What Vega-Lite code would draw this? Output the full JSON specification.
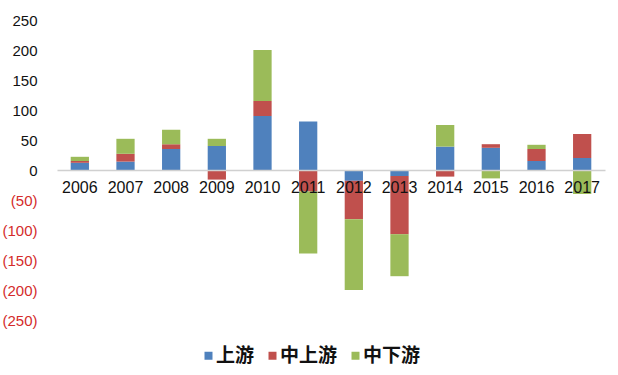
{
  "$schema": "https://vega.github.io/schema/vega-lite/v6.json",
  "width": 548,
  "height": 300,
  "autosize": {"type": "none"},
  "padding": {"left": 57, "top": 20, "right": 13, "bottom": 55},
  "background": "white",
  "data": {
    "values": [
      {"year": "2006", "series": "上游", "value": 12},
      {"year": "2006", "series": "中上游", "value": 3},
      {"year": "2006", "series": "中下游", "value": 7},
      {"year": "2007", "series": "上游", "value": 14},
      {"year": "2007", "series": "中上游", "value": 13},
      {"year": "2007", "series": "中下游", "value": 25},
      {"year": "2008", "series": "上游", "value": 35},
      {"year": "2008", "series": "中上游", "value": 8},
      {"year": "2008", "series": "中下游", "value": 24},
      {"year": "2009", "series": "上游", "value": 40},
      {"year": "2009", "series": "中上游", "value": -16},
      {"year": "2009", "series": "中下游", "value": 12},
      {"year": "2010", "series": "上游", "value": 90},
      {"year": "2010", "series": "中上游", "value": 25},
      {"year": "2010", "series": "中下游", "value": 85},
      {"year": "2011", "series": "上游", "value": 81},
      {"year": "2011", "series": "中上游", "value": -36},
      {"year": "2011", "series": "中下游", "value": -103},
      {"year": "2012", "series": "上游", "value": -18},
      {"year": "2012", "series": "中上游", "value": -64},
      {"year": "2012", "series": "中下游", "value": -118},
      {"year": "2013", "series": "上游", "value": -10},
      {"year": "2013", "series": "中上游", "value": -97},
      {"year": "2013", "series": "中下游", "value": -70},
      {"year": "2014", "series": "上游", "value": 39},
      {"year": "2014", "series": "中上游", "value": -11},
      {"year": "2014", "series": "中下游", "value": 36},
      {"year": "2015", "series": "上游", "value": 37},
      {"year": "2015", "series": "中上游", "value": 6},
      {"year": "2015", "series": "中下游", "value": -14},
      {"year": "2016", "series": "上游", "value": 15},
      {"year": "2016", "series": "中上游", "value": 20},
      {"year": "2016", "series": "中下游", "value": 7},
      {"year": "2017", "series": "上游", "value": 20},
      {"year": "2017", "series": "中上游", "value": 40},
      {"year": "2017", "series": "中下游", "value": -40}
    ]
  },
  "mark": {"type": "bar"},
  "encoding": {
    "x": {
      "field": "year",
      "type": "ordinal",
      "scale": {"paddingInner": 0.6, "paddingOuter": 0.3},
      "axis": {
        "title": null,
        "orient": "bottom",
        "offset": -150,
        "labelAngle": 0,
        "ticks": false,
        "domainColor": "#d0d0d0",
        "domainWidth": 1.5,
        "labelFont": "Liberation Sans",
        "labelFontSize": 16,
        "labelColor": "#111111",
        "labelPadding": 9,
        "zindex": 1
      }
    },
    "y": {
      "field": "value",
      "type": "quantitative",
      "aggregate": "sum",
      "stack": "zero",
      "scale": {"domain": [-250, 250], "nice": false},
      "axis": {
        "title": null,
        "values": [-250, -200, -150, -100, -50, 0, 50, 100, 150, 200, 250],
        "grid": false,
        "domain": false,
        "ticks": false,
        "labelPadding": 20,
        "labelFont": "Liberation Sans",
        "labelFontSize": 15,
        "labelExpr": "datum.value < 0 ? '(' + format(-datum.value, 'd') + ')' : format(datum.value, 'd')",
        "labelColor": {"expr": "datum.value < 0 ? '#d42b2b' : '#111111'"}
      }
    },
    "color": {
      "field": "series",
      "type": "nominal",
      "scale": {"domain": ["上游", "中上游", "中下游"], "range": ["#4f81bd", "#c0504d", "#9bbb59"]},
      "legend": {
        "title": null,
        "orient": "none",
        "direction": "horizontal",
        "legendX": 142,
        "legendY": 326,
        "symbolType": "square",
        "symbolSize": 64,
        "symbolStrokeWidth": 0,
        "labelFont": "Noto Sans CJK SC",
        "labelFontSize": 19,
        "labelFontWeight": "bold",
        "labelColor": "#111111",
        "labelOffset": -2,
        "columnPadding": 8
      }
    },
    "order": {"field": "series", "sort": "ascending"}
  },
  "config": {"view": {"stroke": null}}
}
